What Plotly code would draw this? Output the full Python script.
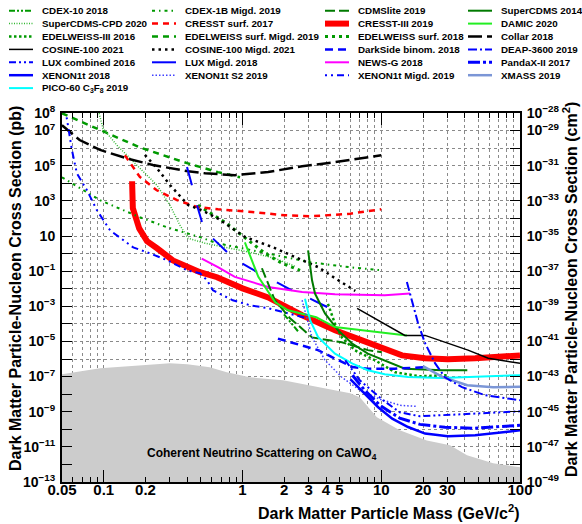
import plotly.graph_objects as go

# ---------------------------------------------------------------------------
# Exclusion limits: dark-matter mass [GeV/c^2] and SI cross-section [pb]
# ---------------------------------------------------------------------------
NU_FLOOR_MASS = [0.05, 0.094, 0.19, 0.30, 0.40, 0.58, 0.77, 1.13, 1.96, 5.97, 7.0, 9.3,
                 13.6, 21.3, 31.3, 41.5, 64, 100]
NU_FLOOR_XSEC = [1.35e-7, 2.95e-7, 4.4e-7, 5.75e-7, 5e-7, 3.4e-7, 1.74e-7, 9.1e-8, 6.2e-8,
                 1.12e-8, 6.6e-9, 4.8e-10, 8.7e-11, 2.3e-11, 1.23e-11, 3.3e-12, 1.15e-12, 6.9e-13]
NU_FLOOR_BASE = 1e-14

CRESST_III_MASS = [0.16, 0.162, 0.18, 0.205, 0.242, 0.315, 0.494, 0.655, 1.0, 1.53, 2.69,
                   4.64, 7.27, 10.6, 14.1, 20.7, 30.2, 47.5, 100]
CRESST_III_XSEC = [1.3e4, 380, 27, 5.1, 2.0, 0.41, 0.087, 0.045, 0.0105, 3.2e-3, 3.1e-4,
                   4.3e-5, 1.15e-5, 4.1e-6, 1.6e-6, 1.1e-6, 9.6e-7, 1.1e-6, 1.6e-6]

CRESST_SURF_MASS = [0.142, 0.182, 0.241, 0.337, 0.47, 0.665, 1.17, 2.02, 3.17, 5.97, 10]
CRESST_SURF_XSEC = [3.9e5, 2.3e4, 4e3, 1.1e3, 450, 330, 234, 151, 133, 186, 330]

COLLAR_MASS = [0.05, 0.067, 0.094, 0.147, 0.226, 0.405, 0.537, 0.88, 1.53, 2.69, 4.64, 10]
COLLAR_XSEC = [2e7, 2.9e6, 7.9e5, 2.6e5, 1.1e5, 4.8e4, 3.7e4, 2.9e4, 4.4e4, 9.3e4, 1.6e5, 3.9e5]

COSINE_MIGD_MASS = [0.198, 0.242, 0.30, 0.405, 0.51, 0.665, 1.04, 1.63, 2.39, 3.5, 4.64, 6.5]
COSINE_MIGD_XSEC = [4.1e5, 7.1e4, 8e3, 585, 290, 98, 8.8, 2.4, 0.64, 0.17, 0.04, 7.5e-3]

COSINE_MASS = [6.7, 10.6, 14.8, 20.7, 30.2, 42.2, 59, 100]
COSINE_XSEC = [7.7e-4, 1e-4, 2.2e-5, 2.2e-5, 7.9e-6, 3.2e-6, 1.1e-6, 5.7e-7]

NEWSG_MASS = [0.508, 0.665, 0.88, 1.53, 2.69, 4.64, 10.6, 16.1]
NEWSG_XSEC = [0.52, 0.17, 0.047, 0.0126, 6.5e-3, 4.8e-3, 4.2e-3, 5.3e-3]

DEAP_MASS = [15.3, 16.6, 18.4, 20.7, 24.4, 28.8, 38.2, 56, 100]
DEAP_XSEC = [0.024, 2.2e-3, 1.1e-4, 7.9e-6, 5.8e-7, 9.1e-8, 2.5e-8, 8.7e-9, 4.5e-9]

XMASS_MASS = [20, 27.9, 41.7, 64, 100]
XMASS_XSEC = [3.9e-7, 9.1e-8, 3.2e-8, 2.5e-8, 2.6e-8]

PICO_MASS = [2.82, 3.07, 3.5, 4.64, 6.2, 8.0, 10.6, 15.6, 27.4, 47.5, 100]
PICO_XSEC = [2.7e-3, 1.6e-4, 1.8e-5, 2.0e-6, 5.5e-7, 2.3e-7, 1.35e-7, 9.5e-8, 8.3e-8, 9.5e-8, 1.2e-7]

XENON_MASS = [6.0, 8.0, 9.5, 12, 15.6, 20.7, 30.2, 47.5, 100]
XENON_XSEC = [7e-8, 6.9e-9, 1.8e-9, 4e-10, 1.35e-10, 5.7e-11, 4e-11, 4.6e-11, 8.7e-11]

PANDAX_MASS = [6.2, 7.6, 9.8, 13.6, 19.0, 28.8, 47.5, 100]
PANDAX_XSEC = [1.2e-7, 1.66e-8, 2.3e-9, 4.3e-10, 1.9e-10, 1.3e-10, 1.15e-10, 1.7e-10]

LUX_MASS = [5.5, 7.0, 10.3, 13.6, 19.0, 37, 100]
LUX_XSEC = [8.5e-7, 6.2e-8, 4.5e-9, 9.3e-10, 5.5e-10, 7.1e-10, 1.05e-9]

XENON_S2_MASS = [2.69, 3.17, 3.93, 5.2, 7.03, 9.8, 13.7, 18.1]
XENON_S2_XSEC = [2.2e-3, 1.7e-5, 8.5e-7, 9.1e-8, 1.66e-8, 5.1e-9, 2.3e-9, 2.0e-9]

XENON_MIGD_MASS = [0.054, 0.059, 0.064, 0.0757, 0.0893, 0.111, 0.163, 0.215, 0.286, 0.40,
                   0.494, 0.555, 0.612, 0.85, 1.13, 1.53, 2.39, 2.92]
XENON_MIGD_XSEC = [5.7e7, 7.6e5, 3.7e4, 4e3, 290, 21, 2.25, 1.04, 0.42, 0.11,
                   0.076, 0.030, 8.1e-3, 2.2e-3, 1.15e-3, 7.7e-4, 3.1e-4, 2.1e-4]

# separate Migdal/bremsstrahlung segments, split with None
LUX_MIGD_MASS = [0.398, 0.432, None, 0.47, 0.51, None, 0.613, 0.773, None, 1.0, 1.27, None,
                 1.77, 2.27, None, 3.07, 4.07]
LUX_MIGD_XSEC = [8.5e4, 7.7e3, None, 560, 63, None, 7.1, 1.23, None, 0.27, 0.09, None,
                 0.023, 8.1e-3, None, 2.7e-3, 9.1e-4]

DARKSIDE_MASS = [1.8, 2.69, 3.5, 4.64, 6.2, 8.0, 12.5, 20.7]
DARKSIDE_XSEC = [1.45e-5, 6e-6, 3.2e-6, 1.05e-6, 3.5e-7, 2.8e-7, 2.8e-7, 3.4e-7]

DAMIC_MASS = [1.04, 1.17, 1.3, 1.72, 2.13, 3.4, 4.64, 7.3, 15.3]
DAMIC_XSEC = [4.4, 0.42, 0.047, 1.7e-3, 5.9e-4, 2.36e-4, 6.6e-5, 4.3e-5, 2.2e-5]

SCDMS14_MASS = [2.97, 3.17, 3.33, 3.93, 4.88, 6.17, 8.0, 10.6, 14.8, 27.4, 41.7]
SCDMS14_XSEC = [1.5, 0.030, 5.3e-3, 3.9e-4, 4.3e-5, 7.6e-6, 2.0e-6, 8.5e-7, 2.8e-7, 2.3e-7, 2.3e-7]

CDMSLITE_MASS = [1.38, 1.71, 2.2, 3.17, 5.2, 8.0, 10.1]
CDMSLITE_XSEC = [0.146, 2.2e-3, 2.1e-4, 1.7e-5, 8.9e-6, 3.2e-6, 2.4e-6]

CDEX10_MASS = [1.99, 2.51]
CDEX10_XSEC = [3.5e-4, 3.8e-5]

EDW3_MASS = [4.13, 4.64, 5.2, 6.47, 9.0, 12.6, 19, 29.8]
EDW3_XSEC = [1.38e-3, 1e-4, 1.7e-5, 3.1e-6, 8.5e-7, 1.75e-7, 1.04e-7, 1.2e-7]

EDW_SURF_MASS = [0.478, 0.748, 0.93, 1.17, 1.45, 1.93, 2.6]
EDW_SURF_XSEC = [560, 60, 16, 3.9, 1.04, 0.28, 0.11]

EDW_SURF_MIGD_MASS = [0.05, 0.094, 0.182, 0.398, 0.665, 0.96]
EDW_SURF_MIGD_XSEC = [9.6e7, 1.05e7, 1.1e6, 1.4e5, 4.3e4, 2.2e4]

CDEX1B_MIGD_MASS = [0.05, 0.094, 0.182, 0.286, 0.494, 0.655, 1.5, 3.07, 5.97, 10]
CDEX1B_MIGD_XSEC = [2.2e4, 1.08e3, 117, 31, 8.6, 3.9, 1.04, 0.32, 0.166, 0.112]

CPD_MASS = [0.0925, 0.0987, 0.1245, 0.1545, 0.192, 0.242, 0.30, 0.354, 0.405, 0.537,
            0.748, 1.13, 1.71, 2.39]
CPD_XSEC = [9.6e7, 1.35e7, 1.45e6, 2.6e5, 4.8e4, 7.7e3, 560, 41, 7.4, 3.9,
            2.3, 1.19, 0.54, 0.19]

# axis labelling
X_LABELS = {0.05: "0.05", 0.1: "0.1", 0.2: "0.2", 1: "1", 2: "2", 3: "3", 4: "4",
            5: "5", 10: "10", 20: "20", 30: "30", 100: "100"}
PB_LABEL_EXP = [8, 7, 5, 3, 1, -1, -3, -5, -7, -9, -11, -13]
CM2_LABEL_EXP = [-28, -29, -31, -33, -35, -37, -39, -41, -43, -45, -47, -49]
PB_TO_CM2 = 1e-36

# ---------------------------------------------------------------------------
# Styling
# ---------------------------------------------------------------------------
FONT = "Liberation Sans, Arial, Helvetica, sans-serif"
RED, BLUE, MAGENTA, CYAN = "#ff0000", "#0000ff", "#ff00ff", "#00ffff"
MID_GREEN, DARK_GREEN, LIGHT_GREEN, LIME = "#009900", "#007a00", "#33b833", "#22ee22"

STYLE = {
    "CDEX-10 2018": dict(color=MID_GREEN, width=2, dash="6px,2px,2px,2px,2px,2px"),
    "SuperCDMS-CPD 2020": dict(color=LIGHT_GREEN, width=1.5, dash="1px,1.5px"),
    "EDELWEISS-III 2016": dict(color=MID_GREEN, width=2.5, dash="2.5px,2.5px"),
    "COSINE-100 2021": dict(color="black", width=1.5, dash="solid"),
    "LUX combined 2016": dict(color=BLUE, width=2, dash="7px,3px,2px,3px,2px,3px"),
    "XENON1t 2018": dict(color=BLUE, width=2.5, dash="solid"),
    "PICO-60 C<sub>3</sub>F<sub>8</sub> 2019": dict(color=CYAN, width=2, dash="solid"),
    "CDEX-1B Migd. 2019": dict(color=MID_GREEN, width=2, dash="3px,4px,1.5px,4px"),
    "CRESST surf. 2017": dict(color=RED, width=2.5, dash="6px,5px"),
    "EDELWEISS surf. Migd. 2019": dict(color=MID_GREEN, width=2.5, dash="6px,5px"),
    "COSINE-100 Migd. 2021": dict(color="black", width=2.5, dash="2.5px,4px"),
    "LUX Migd. 2018": dict(color=BLUE, width=2, dash="solid"),
    "XENON1t S2 2019": dict(color="#4040ff", width=1.5, dash="1.5px,2px"),
    "CDMSlite 2019": dict(color=DARK_GREEN, width=2, dash="10px,4px"),
    "CRESST-III 2019": dict(color=RED, width=6, dash="solid"),
    "EDELWEISS surf. 2018": dict(color=MID_GREEN, width=3, dash="3px,4px"),
    "DarkSide binom. 2018": dict(color=BLUE, width=2.5, dash="8px,5px"),
    "NEWS-G 2018": dict(color=MAGENTA, width=2, dash="solid"),
    "XENON1t Migd. 2019": dict(color=BLUE, width=2, dash="2px,4px,2px,4px,7px,4px"),
    "SuperCDMS 2014": dict(color=DARK_GREEN, width=2, dash="solid"),
    "DAMIC 2020": dict(color=LIME, width=2, dash="solid"),
    "Collar 2018": dict(color="black", width=2.5, dash="14px,5px"),
    "DEAP-3600 2019": dict(color=BLUE, width=2, dash="9px,3px,2px,3px"),
    "PandaX-II 2017": dict(color=BLUE, width=3, dash="12px,3px,3px,3px"),
    "XMASS 2019": dict(color="#7b96d6", width=2.5, dash="solid"),
}

# drawing order (later on top)
CURVES = [
    ("CRESST-III 2019", CRESST_III_MASS, CRESST_III_XSEC),
    ("EDELWEISS surf. Migd. 2019", EDW_SURF_MIGD_MASS, EDW_SURF_MIGD_XSEC),
    ("CDEX-1B Migd. 2019", CDEX1B_MIGD_MASS, CDEX1B_MIGD_XSEC),
    ("SuperCDMS-CPD 2020", CPD_MASS, CPD_XSEC),
    ("EDELWEISS surf. 2018", EDW_SURF_MASS, EDW_SURF_XSEC),
    ("Collar 2018", COLLAR_MASS, COLLAR_XSEC),
    ("CRESST surf. 2017", CRESST_SURF_MASS, CRESST_SURF_XSEC),
    ("COSINE-100 Migd. 2021", COSINE_MIGD_MASS, COSINE_MIGD_XSEC),
    ("XENON1t Migd. 2019", XENON_MIGD_MASS, XENON_MIGD_XSEC),
    ("LUX Migd. 2018", LUX_MIGD_MASS, LUX_MIGD_XSEC),
    ("NEWS-G 2018", NEWSG_MASS, NEWSG_XSEC),
    ("EDELWEISS-III 2016", EDW3_MASS, EDW3_XSEC),
    ("CDEX-10 2018", CDEX10_MASS, CDEX10_XSEC),
    ("CDMSlite 2019", CDMSLITE_MASS, CDMSLITE_XSEC),
    ("SuperCDMS 2014", SCDMS14_MASS, SCDMS14_XSEC),
    ("DAMIC 2020", DAMIC_MASS, DAMIC_XSEC),
    ("DarkSide binom. 2018", DARKSIDE_MASS, DARKSIDE_XSEC),
    ("COSINE-100 2021", COSINE_MASS, COSINE_XSEC),
    ("PICO-60 C<sub>3</sub>F<sub>8</sub> 2019", PICO_MASS, PICO_XSEC),
    ("XENON1t S2 2019", XENON_S2_MASS, XENON_S2_XSEC),
    ("LUX combined 2016", LUX_MASS, LUX_XSEC),
    ("PandaX-II 2017", PANDAX_MASS, PANDAX_XSEC),
    ("XENON1t 2018", XENON_MASS, XENON_XSEC),
    ("XMASS 2019", XMASS_MASS, XMASS_XSEC),
    ("DEAP-3600 2019", DEAP_MASS, DEAP_XSEC),
]

LEGEND_COLUMNS = [
    ["CDEX-10 2018", "SuperCDMS-CPD 2020", "EDELWEISS-III 2016", "COSINE-100 2021",
     "LUX combined 2016", "XENON1t 2018", "PICO-60 C<sub>3</sub>F<sub>8</sub> 2019"],
    ["CDEX-1B Migd. 2019", "CRESST surf. 2017", "EDELWEISS surf. Migd. 2019",
     "COSINE-100 Migd. 2021", "LUX Migd. 2018", "XENON1t S2 2019"],
    ["CDMSlite 2019", "CRESST-III 2019", "EDELWEISS surf. 2018", "DarkSide binom. 2018",
     "NEWS-G 2018", "XENON1t Migd. 2019"],
    ["SuperCDMS 2014", "DAMIC 2020", "Collar 2018", "DEAP-3600 2019", "PandaX-II 2017",
     "XMASS 2019"],
]

# ---------------------------------------------------------------------------
# Page geometry (pixels)
# ---------------------------------------------------------------------------
W, H = 582, 524
ML, MR, MT, MB = 62, 62, 113, 42
PLOT_W, PLOT_H = W - ML - MR, H - MT - MB


def paper_x(px):
    return (px - ML) / PLOT_W


def paper_y(py):
    return (H - MB - py) / PLOT_H


fig = go.Figure()

# neutrino floor (filled down to below the axis range)
fig.add_trace(go.Scatter(
    x=NU_FLOOR_MASS + [NU_FLOOR_MASS[-1], NU_FLOOR_MASS[0]],
    y=NU_FLOOR_XSEC + [NU_FLOOR_BASE, NU_FLOOR_BASE],
    mode="lines", fill="toself", fillcolor="#cccccc",
    line=dict(color="#cccccc", width=0), showlegend=False, hoverinfo="skip"))

for name, mass, xsec in CURVES:
    fig.add_trace(go.Scatter(x=mass, y=xsec, mode="lines", name=name,
                             line=STYLE[name], showlegend=False))

# same limit expressed in cm^2 on the right-hand axis (invisible, sets the axis up)
fig.add_trace(go.Scatter(x=CRESST_III_MASS, y=[v * PB_TO_CM2 for v in CRESST_III_XSEC],
                         yaxis="y2", mode="lines", line=dict(width=0), opacity=0,
                         showlegend=False, hoverinfo="skip"))
# carrier for the decade-tick overlay axis
fig.add_trace(go.Scatter(x=[None], y=[None], xaxis="x2", mode="lines",
                         showlegend=False, hoverinfo="skip"))

# ---------------------------------------------------------------------------
# Axes
# ---------------------------------------------------------------------------
grid_x = []
for e in range(-2, 3):
    for m in range(1, 10):
        v = round(m * 10.0 ** e, 6)
        if 0.05 <= v <= 100:
            grid_x.append(v)
grid_x_text = [X_LABELS.get(v, "") for v in grid_x]


def pow_label(e):
    if e == 1:
        return "10"
    return "10<sup>%s</sup>" % (str(e).replace("-", "\u2212"))


pb_vals = [10.0 ** e for e in range(-13, 9)]
pb_text = [pow_label(e) if e in PB_LABEL_EXP else "" for e in range(-13, 9)]
cm_vals = [10.0 ** e for e in range(-49, -27)]
cm_text = [pow_label(e) if e in CM2_LABEL_EXP else "" for e in range(-49, -27)]

tick_font = dict(family=FONT, size=15, color="black", weight="bold")
y_tick_font = dict(family=FONT, size=14, color="black", weight="bold")

fig.update_layout(
    width=W, height=H,
    margin=dict(l=ML, r=MR, t=MT, b=MB, pad=0),
    paper_bgcolor="white", plot_bgcolor="white",
    showlegend=False,
    xaxis=dict(type="log", range=[-1.30103, 2], tickmode="array", tickvals=grid_x,
               ticktext=grid_x_text, ticks="inside", ticklen=5, tickwidth=1,
               tickcolor="black", showline=True, linecolor="black", linewidth=2,
               mirror="ticks", showgrid=True, gridcolor="#8a8a8a", gridwidth=1,
               griddash="dot", zeroline=False, tickfont=tick_font, tickangle=0,
               ticklabelstandoff=-7),
    xaxis2=dict(type="log", range=[-1.30103, 2], overlaying="x", anchor="y", side="bottom",
                tickmode="array", tickvals=[0.1, 1, 10, 100], ticks="inside", ticklen=12,
                tickwidth=1, tickcolor="black", showticklabels=False, showgrid=False,
                showline=False, mirror="ticks", zeroline=False),
    yaxis=dict(type="log", range=[-13, 8], tickmode="array", tickvals=pb_vals,
               ticktext=pb_text, ticks="inside", ticklen=10, tickwidth=1,
               tickcolor="black", showline=True, linecolor="black", linewidth=2,
               mirror=False, showgrid=True, gridcolor="#8a8a8a", gridwidth=1,
               griddash="dot", zeroline=False, tickfont=y_tick_font, ticklabelstandoff=2),
    yaxis2=dict(type="log", range=[-49, -28], overlaying="y", side="right", anchor="x",
                tickmode="array", tickvals=cm_vals, ticktext=cm_text, ticks="inside",
                ticklen=10, tickwidth=1, tickcolor="black", showline=True,
                linecolor="black", linewidth=2, showgrid=False, zeroline=False,
                tickfont=y_tick_font, ticklabelstandoff=2),
)

# ---------------------------------------------------------------------------
# Titles and labels
# ---------------------------------------------------------------------------
title_font = dict(family=FONT, size=16, color="black", weight="bold")
annotations = [
    dict(text="Dark Matter Particle-Nucleon Cross Section (pb)", textangle=-90,
         xref="paper", yref="paper", x=paper_x(15), y=paper_y(289),
         xanchor="center", yanchor="middle", showarrow=False, font=title_font),
    dict(text="Dark Matter Particle-Nucleon Cross Section (cm<sup>2</sup>)", textangle=-90,
         xref="paper", yref="paper", x=paper_x(570), y=paper_y(290),
         xanchor="center", yanchor="middle", showarrow=False, font=title_font),
    dict(text="Dark Matter Particle Mass (GeV/c<sup>2</sup>)",
         xref="paper", yref="paper", x=paper_x(521), y=paper_y(512),
         xanchor="right", yanchor="middle", showarrow=False, font=title_font),
    dict(text="Coherent Neutrino Scattering on CaWO<sub>4</sub>",
         xref="paper", yref="paper", x=paper_x(145), y=paper_y(454),
         xanchor="left", yanchor="middle", showarrow=False,
         font=dict(family=FONT, size=12, color="black", weight="bold")),
]

# legend: four columns of key line + label above the frame
LEG_COL_X = [9, 152, 325, 468]
LEG_ROW_Y0, LEG_ROW_DY = 10.7, 12.9
LEG_KEY_LEN, LEG_TEXT_GAP = 24, 7
shapes = []
for col_x, entries in zip(LEG_COL_X, LEGEND_COLUMNS):
    for i, name in enumerate(entries):
        ry = LEG_ROW_Y0 + i * LEG_ROW_DY
        st = STYLE[name]
        shapes.append(dict(type="line", xref="paper", yref="paper",
                           x0=paper_x(col_x), x1=paper_x(col_x + LEG_KEY_LEN),
                           y0=paper_y(ry), y1=paper_y(ry),
                           line=dict(color=st["color"], width=st["width"], dash=st["dash"])))
        annotations.append(dict(text=name, xref="paper", yref="paper",
                                x=paper_x(col_x + LEG_KEY_LEN + LEG_TEXT_GAP), y=paper_y(ry),
                                xanchor="left", yanchor="middle", showarrow=False,
                                font=dict(family=FONT, size=9.8, color="black", weight="bold")))

fig.update_layout(annotations=annotations, shapes=shapes)

fig.write_html("out.html")
